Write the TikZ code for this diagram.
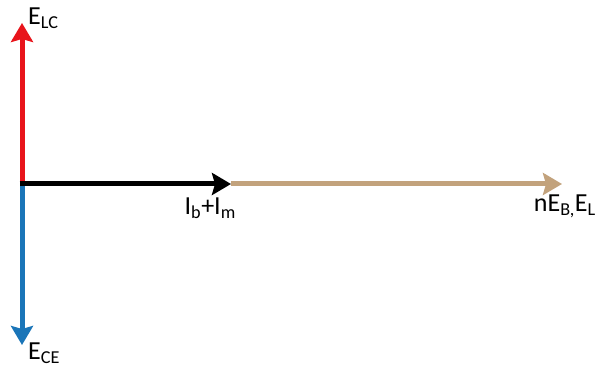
\documentclass[tikz,border=0pt]{standalone}
\usepackage{fontspec}
\setmainfont{Carlito}
\usepackage{xcolor}
\usepackage{tikz}
\usetikzlibrary{arrows.meta,positioning}
\definecolor{FieldRed}{HTML}{E8141B}
\definecolor{FieldBlue}{HTML}{1A75B8}
\definecolor{Tan}{HTML}{C2A27C}
\newcommand{\lowidx}[1]{\textsubscript{#1}}

\begin{document}
\begin{tikzpicture}[x=1pt,y=1pt,
  every node/.style={font=\fontsize{26}{30}\selectfont,inner sep=0pt},
  vec/.style={line width=5pt,-{Stealth[length=19pt,width=22pt,inset=3pt]}},
  lc/.style={vec,draw=FieldRed},
  ce/.style={vec,draw=FieldBlue},
  cur/.style={vec,draw=black},
  tot/.style={vec,draw=Tan}]
\useasboundingbox (0,0) rectangle (597,374);
\coordinate (O) at (22,190);
\coordinate (LC) at (22,351);
\coordinate (CE) at (22,29);
\coordinate (IB) at (231,190);
\coordinate (EL) at (562,190);

% the two axial fields first, then the in-line pair on top
\draw[lc] (O) -- (LC);
\draw[ce] (O) -- (CE);
\draw[tot] (IB) -- (EL);
\draw[cur] ([xshift=-2.5pt]O) -- (IB);

\node[anchor=base west] (lclabel) at ([xshift=6pt,yshift=-2pt]LC) {E\lowidx{LC}};
\node[anchor=north west] (celabel) at ([xshift=6pt,yshift=2pt]CE) {E\lowidx{CE}};
\node[anchor=north east] (iblabel) at ([xshift=5pt,yshift=-14pt]IB) {I\lowidx{b}+I\lowidx{m}};
\node[anchor=north east] (ellabel) at ([xshift=34pt,yshift=-11pt]EL) {nE\lowidx{B,}E\lowidx{L}};
\end{tikzpicture}
\end{document}
